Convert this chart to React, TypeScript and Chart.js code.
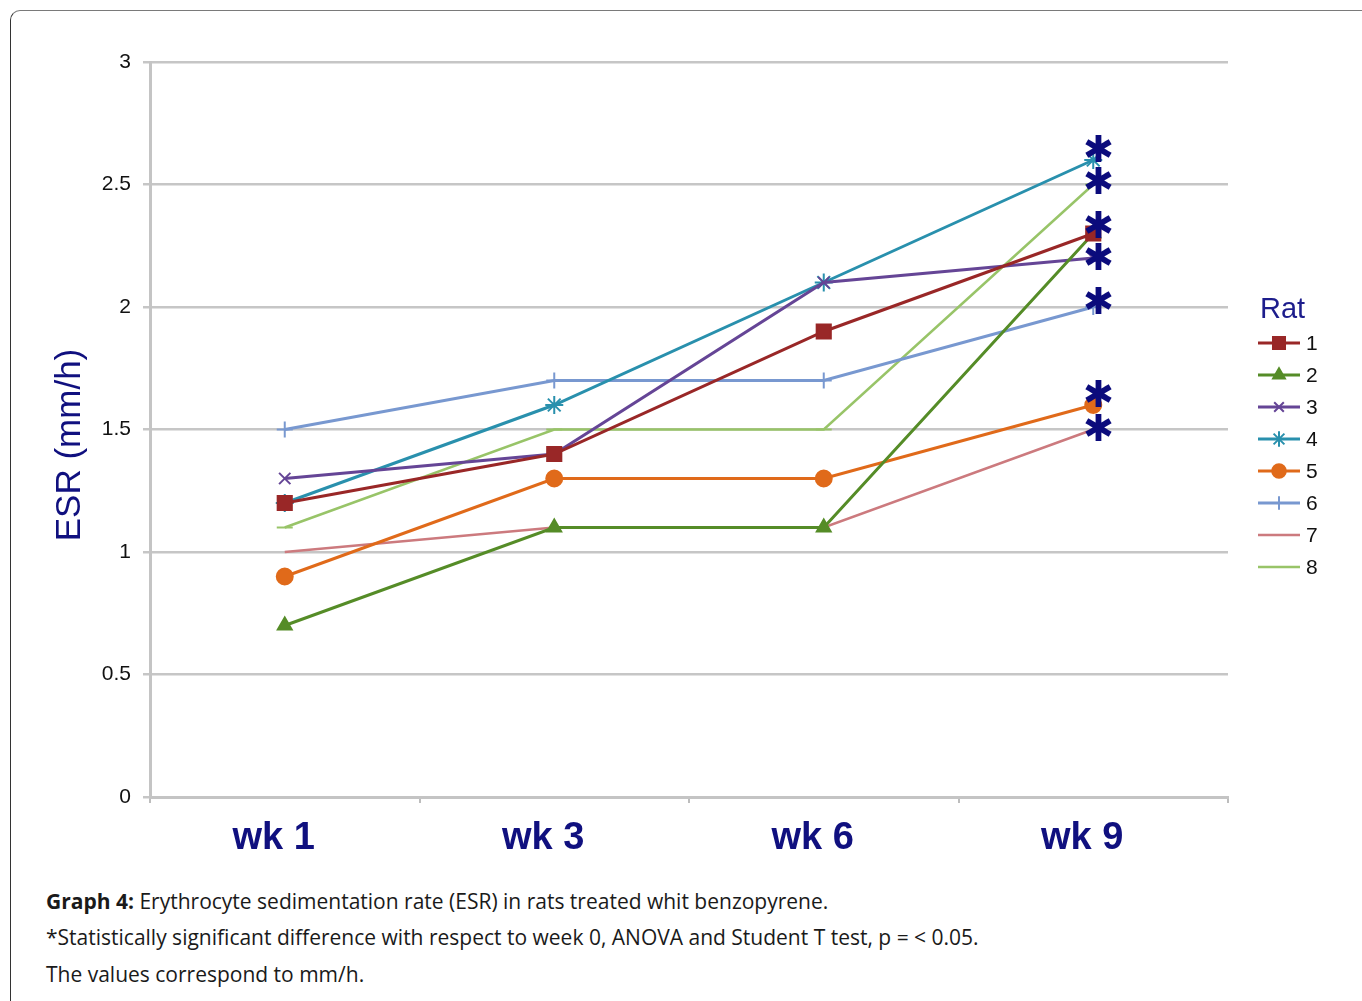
import React, { useEffect, useRef } from 'react';
import { Chart, registerables } from 'chart.js';
import { drawPoint } from 'chart.js/helpers';

Chart.register(...registerables);

const weeks = ['wk 1', 'wk 3', 'wk 6', 'wk 9'];
const ratNames = ['1', '2', '3', '4', '5', '6', '7', '8'];
const rat1 = [1.2, 1.4, 1.9, 2.3];
const rat2 = [0.7, 1.1, 1.1, 2.3];
const rat3 = [1.3, 1.4, 2.1, 2.2];
const rat4 = [1.2, 1.6, 2.1, 2.6];
const rat5 = [0.9, 1.3, 1.3, 1.6];
const rat6 = [1.5, 1.7, 1.7, 2.0];
const rat7 = [1.0, 1.1, 1.1, 1.5];
const rat8 = [1.1, 1.5, 1.5, 2.5];
// asterisks marking significant values at wk 9
const significanceMarks = [2.64, 2.51, 2.33, 2.2, 2.02, 1.64, 1.5];
const yTitle = 'ESR (mm/h)';

const ratSeries = [rat1, rat2, rat3, rat4, rat5, rat6, rat7, rat8];
const colors = ['#992727', '#558c27', '#654596', '#2990ad', '#e06a1a', '#7898d0', '#cc7a7e', '#98c468'];
const styles: any[] = ['rect', 'triangle', 'crossRot', 'star', 'circle', 'cross', 'circle', 'line'];
const radii = [10, 8, 8, 9, 8, 8, 0, 8];
const widths = [3, 3, 3, 3, 3, 3, 2.5, 2.5];

const NAVY = '#10107f';

const overlay = {
  id: 'overlay',
  afterDatasetsDraw(chart: any) {
    const { ctx, scales } = chart;
    const x = scales.x;
    const y = scales.y;
    ctx.save();
    // y axis title
    ctx.save();
    ctx.translate(70, 445);
    ctx.rotate(-Math.PI / 2);
    ctx.fillStyle = NAVY;
    ctx.font = '35px "Liberation Sans"';
    ctx.textAlign = 'center';
    ctx.textBaseline = 'middle';
    ctx.fillText(yTitle, 0, 0);
    ctx.restore();
    // significance asterisks
    ctx.fillStyle = '#0b0b7c';
    ctx.font = 'bold 37px "DejaVu Sans"';
    ctx.textAlign = 'center';
    ctx.textBaseline = 'middle';
    const px = x.getPixelForValue(weeks.length - 1);
    significanceMarks.forEach((v) => {
      ctx.fillText('\u2731', px + 5, y.getPixelForValue(v) + 2);
    });
    // legend
    const lx = 1258;
    ctx.fillStyle = '#1d1d8c';
    ctx.font = '29px "Liberation Sans"';
    ctx.textAlign = 'left';
    ctx.fillText('Rat', 1260, 310);
    chart.data.datasets.forEach((ds: any, i: number) => {
      const cy = 343 + 32 * i;
      ctx.strokeStyle = ds.borderColor;
      ctx.lineWidth = ds.borderWidth;
      ctx.beginPath();
      ctx.moveTo(lx, cy);
      ctx.lineTo(lx + 42, cy);
      ctx.stroke();
      if (ds.pointRadius > 0 && ds.pointStyle !== 'line') {
        ctx.fillStyle = ds.backgroundColor;
        ctx.lineWidth = 2;
        drawPoint(ctx, { pointStyle: ds.pointStyle, radius: ds.pointRadius * 0.85, borderWidth: 2, rotation: 0 }, lx + 21, cy);
      }
      ctx.fillStyle = '#111';
      ctx.font = '21px "Liberation Sans"';
      ctx.fillText(ds.label, lx + 48, cy + 1);
    });
    ctx.restore();
  },
};

function ChartCanvas() {
  const ref = useRef<HTMLCanvasElement>(null);
  useEffect(() => {
    if (!ref.current) return;
    const chart = new Chart(ref.current, {
      type: 'line',
      data: {
        labels: weeks,
        datasets: ratSeries.map((d, i) => ({
          label: ratNames[i],
          data: d,
          borderColor: colors[i],
          backgroundColor: colors[i],
          pointBackgroundColor: colors[i],
          pointBorderColor: colors[i],
          borderWidth: widths[i],
          pointStyle: styles[i],
          pointRadius: radii[i],
          pointBorderWidth: 2,
          tension: 0,
          fill: false,
        })),
      },
      options: {
        responsive: false,
        animation: false,
        devicePixelRatio: 1,
        layout: { padding: { top: 62, right: 134, bottom: 0, left: 0 } },
        plugins: {
          legend: { display: false },
          tooltip: { enabled: false },
        },
        scales: {
          x: {
            type: 'category',
            offset: true,
            afterFit: (s: any) => { s.height = 73; },
            grid: {
              display: true,
              offset: true,
              drawOnChartArea: false,
              drawTicks: true,
              tickLength: 6,
              color: '#bdbdbd',
              lineWidth: 2,
            },
            border: { display: true, color: '#c4c4c4', width: 3 },
            ticks: {
              color: NAVY,
              padding: 13,
              labelOffset: -11,
              font: { family: '"Liberation Sans", Arial', size: 38, weight: 'bold' },
            },
          },
          y: {
            min: 0,
            max: 3,
            afterFit: (s: any) => { s.width = 150; },
            grid: {
              color: '#c6c6c6',
              lineWidth: 2.5,
              drawTicks: true,
              tickLength: 7,
            },
            border: { display: true, color: '#c4c4c4', width: 3 },
            ticks: {
              stepSize: 0.5,
              color: '#111',
              padding: 12,
              callback: (v: any) => String(Number(v)),
              font: { family: '"Liberation Sans", Arial', size: 21 },
            },
          },
        },
      },
      plugins: [overlay],
    } as any);
    return () => chart.destroy();
  }, []);
  return (
    <canvas
      ref={ref}
      width={1362}
      height={870}
      style={{ position: 'absolute', left: 0, top: 0, width: 1362, height: 870 }}
    />
  );
}

export default function App() {
  const cap: React.CSSProperties = {
    position: 'absolute',
    left: 46,
    fontFamily: '"Open Sans", Lato, sans-serif',
    fontSize: 21,
    color: '#1a1a1a',
    whiteSpace: 'nowrap',
    lineHeight: '24px',
  };
  return (
    <div style={{ position: 'absolute', left: 0, top: 0, width: 1362, height: 1001, overflow: 'hidden', background: '#fff' }}>
      <div
        style={{
          position: 'absolute',
          left: 10,
          top: 10,
          width: 1400,
          height: 1100,
          borderTop: '1.5px solid #7a7a7a',
          borderLeft: '1.5px solid #333',
          borderRadius: 10,
        }}
      />
      <ChartCanvas />
      <div style={{ ...cap, top: 889 }}>
        <b>Graph 4:</b> Erythrocyte sedimentation rate (ESR) in rats treated whit benzopyrene.
      </div>
      <div style={{ ...cap, top: 925 }}>
        *Statistically significant difference with respect to week 0, ANOVA and Student T test, p = &lt; 0.05.
      </div>
      <div style={{ ...cap, top: 962 }}>The values correspond to mm/h.</div>
    </div>
  );
}
